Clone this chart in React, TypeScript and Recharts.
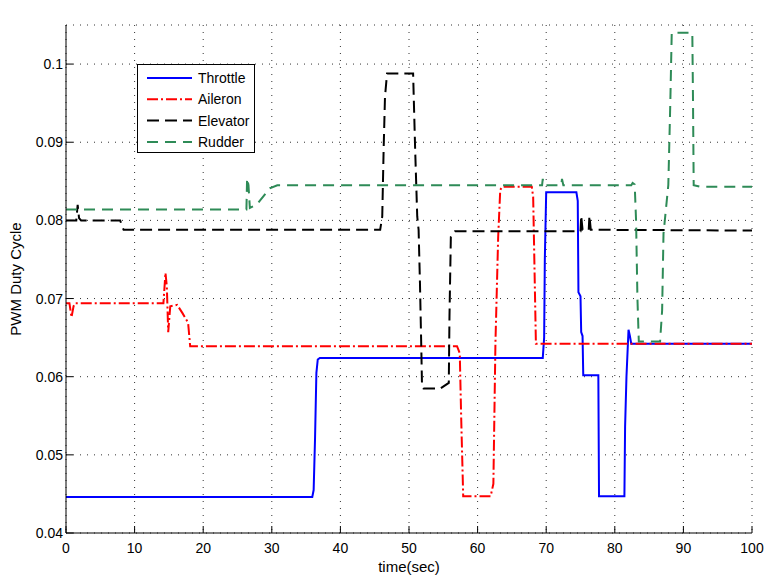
import { LineChart, Line, XAxis, YAxis, CartesianGrid, Legend } from "recharts"

type Pt = [number, number]

const xTicks = [0, 10, 20, 30, 40, 50, 60, 70, 80, 90, 100]
const yTicks = [0.04, 0.05, 0.06, 0.07, 0.08, 0.09, 0.1]

// [time(sec), duty cycle]
const throttle: Pt[] = [
  [0, 0.0446], [35.9, 0.0446], [36.1, 0.0455], [36.3, 0.052], [36.5, 0.0605], [36.7, 0.0622],
  [37.0, 0.0624], [69.5, 0.0624], [69.7, 0.065], [69.8, 0.075], [70.0, 0.0836], [74.4, 0.0836],
  [74.6, 0.0825], [74.7, 0.0708], [75.0, 0.0703], [75.1, 0.0657], [75.3, 0.0652], [75.4, 0.0602],
  [77.6, 0.0602], [77.7, 0.0447], [81.4, 0.0447], [81.5, 0.0536], [81.7, 0.06], [82.0, 0.066],
  [82.2, 0.0652], [82.4, 0.0642], [100, 0.0642],
]

const aileron: Pt[] = [
  [0, 0.0694], [0.5, 0.0694], [0.8, 0.0676], [1.1, 0.069], [1.3, 0.0694], [14.2, 0.0694],
  [14.5, 0.0733], [14.7, 0.0715], [14.9, 0.0657], [15.2, 0.069], [16.2, 0.0692], [17.0, 0.0681],
  [17.8, 0.0669], [18.1, 0.0639], [57.0, 0.0639], [57.4, 0.063], [57.6, 0.055], [57.9, 0.0447],
  [61.9, 0.0447], [62.3, 0.0463], [62.6, 0.0643], [63.0, 0.0779], [63.3, 0.0839], [63.6, 0.0843],
  [67.9, 0.0843], [68.1, 0.083], [68.5, 0.0642], [100, 0.0642],
]

const elevator: Pt[] = [
  [0, 0.08], [1.5, 0.08], [1.7, 0.082], [1.9, 0.0803], [2.2, 0.08], [7.9, 0.08], [8.2, 0.0792],
  [8.4, 0.0788], [45.8, 0.0788], [46.1, 0.0805], [46.3, 0.089], [46.5, 0.0958], [46.8, 0.0988],
  [50.6, 0.0988], [50.9, 0.089], [51.2, 0.0805], [51.4, 0.0788], [51.6, 0.0719], [51.8, 0.0634],
  [51.9, 0.0587], [52.1, 0.0585], [54.6, 0.0585], [55.8, 0.0592], [55.9, 0.0677], [56.1, 0.0779],
  [56.7, 0.0786], [75.0, 0.0786], [75.1, 0.0806], [75.3, 0.0788], [76.2, 0.0788], [76.3, 0.0806],
  [76.5, 0.0788], [100, 0.0787],
]

const rudder: Pt[] = [
  [0, 0.0814], [26.3, 0.0814], [26.4, 0.0854], [26.6, 0.0845], [26.8, 0.0816], [27.8, 0.082],
  [29.7, 0.0841], [30.8, 0.0845], [69.4, 0.0845], [69.5, 0.0853], [69.7, 0.0845], [72.2, 0.0845],
  [72.3, 0.0853], [72.5, 0.0845], [82.4, 0.0845], [82.6, 0.0848], [82.9, 0.0846], [83.1, 0.08],
  [83.3, 0.07], [83.5, 0.0645], [86.6, 0.0645], [86.9, 0.0685], [87.1, 0.0783], [87.8, 0.0845],
  [88.1, 0.0954], [88.3, 0.104], [91.3, 0.104], [91.4, 0.0954], [91.5, 0.0845], [92.5, 0.0843],
  [100, 0.0843],
]

const SERIES = [
  { key: "throttle", name: "Throttle", color: "#0000ff", dash: undefined, points: throttle },
  { key: "aileron", name: "Aileron", color: "#ff0000", dash: "11 3 2 3", points: aileron },
  { key: "elevator", name: "Elevator", color: "#000000", dash: "12 6", points: elevator },
  { key: "rudder", name: "Rudder", color: "#2e8b57", dash: "11 7", points: rudder },
]

const FONT = "'Liberation Sans', Arial, Helvetica, sans-serif"

function LegendBox() {
  return (
    <div style={{ width: 118, height: 89, border: "1px solid #000", background: "#fff", boxSizing: "border-box" }}>
      <svg width={116} height={87}>
        {SERIES.map((s, i) => {
          const y = 13 + i * 21.3
          return (
            <g key={s.key}>
              <line x1={9} x2={54} y1={y} y2={y} stroke={s.color} strokeWidth={2} strokeDasharray={s.dash} />
              <text x={60} y={y + 5} fontSize={14} fill="#000" fontFamily={FONT}>
                {s.name}
              </text>
            </g>
          )
        })}
      </svg>
    </div>
  )
}

const fmtY = (v: number) => String(+v.toFixed(2))

export default function App() {
  return (
    <div style={{ position: "fixed", left: 0, top: 0, width: 766, height: 580, background: "#fff", fontFamily: FONT }}>
      <LineChart width={766} height={580} margin={{ top: 25, right: 14, bottom: 0, left: 0 }}>
        <CartesianGrid stroke="#333" strokeDasharray="1 6" />
        <XAxis
          dataKey="t"
          type="number"
          domain={[0, 100]}
          allowDataOverflow
          ticks={xTicks}
          interval={0}
          height={47}
          tickSize={-7}
          tickMargin={17}
          stroke="#000"
          tick={{ fontSize: 14, fill: "#000" }}
          label={{ value: "time(sec)", position: "insideBottom", offset: 8, fontSize: 15, fill: "#000" }}
        />
        <XAxis
          xAxisId="top"
          orientation="top"
          type="number"
          domain={[0, 100]}
          allowDataOverflow
          ticks={xTicks}
          interval={0}
          height={0}
          tickSize={-7}
          tick={false}
          stroke="#000"
          label={{ value: "PWM Deflection of Control Surfaces (Neutral-Min-Max)", position: "top", offset: 9, fontSize: 15, fill: "#000" }}
        />
        <YAxis
          type="number"
          domain={[0.04, 0.105]}
          allowDataOverflow
          ticks={yTicks}
          interval={0}
          width={66}
          tickSize={-7}
          tickMargin={10}
          tickFormatter={fmtY}
          stroke="#000"
          tick={{ fontSize: 14, fill: "#000" }}
          label={{ value: "PWM Duty Cycle", angle: -90, position: "insideLeft", offset: 16, fontSize: 15, fill: "#000", style: { textAnchor: "middle" } }}
        />
        <YAxis
          yAxisId="right"
          orientation="right"
          type="number"
          domain={[0.04, 0.105]}
          allowDataOverflow
          ticks={yTicks}
          interval={0}
          width={0}
          tickSize={-7}
          tick={false}
          stroke="#000"
        />
        {SERIES.map((s) => (
          <Line
            key={s.key}
            name={s.name}
            data={s.points.map(([t, v]) => ({ t, v }))}
            dataKey="v"
            type="linear"
            stroke={s.color}
            strokeWidth={2}
            strokeDasharray={s.dash}
            dot={false}
            activeDot={false}
            isAnimationActive={false}
          />
        ))}
        <Legend
          layout="vertical"
          align="center"
          verticalAlign="middle"
          content={() => <LegendBox />}
          wrapperStyle={{ left: 137, top: 64, width: 118, height: 89 }}
        />
      </LineChart>
    </div>
  )
}
